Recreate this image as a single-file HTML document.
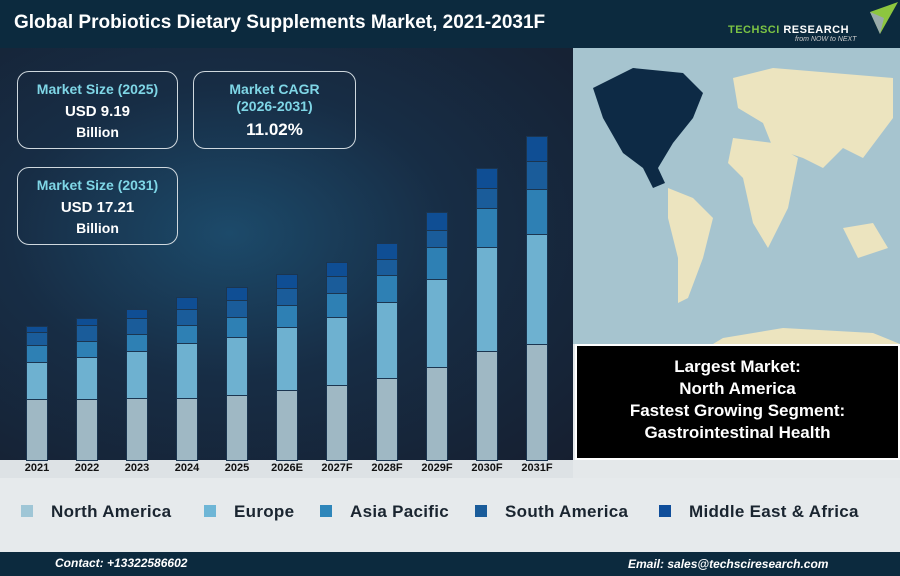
<!DOCTYPE html>
<html><head><style>
*{margin:0;padding:0;box-sizing:border-box}
body{width:900px;height:576px;overflow:hidden;font-family:"Liberation Sans",sans-serif;background:#e4e8ea;position:relative}
.abs{position:absolute}
.box{position:absolute;border:1px solid #cfd8de;border-radius:12px;text-align:center;color:#fff;font-weight:bold}
.t{color:#7fd6e6;font-size:14px}
.bar{position:absolute;width:22px;border:1px solid #1b3550}
.lg{position:absolute;top:502px;font-size:17px;font-weight:bold;color:#1a2530;letter-spacing:0.3px}
.lg i{position:absolute;left:-30px;top:3px;width:12px;height:12px}
</style></head><body>
<div class="abs" style="left:0;top:0;width:900px;height:48px;background:#0c2a3e"></div>
<div class="abs" style="left:14px;top:12px;color:#fff;font-size:19px;font-weight:bold">Global Probiotics Dietary Supplements Market, 2021-2031F</div>
<div class="abs" style="left:728px;top:24px;color:#7cc444;font-size:11px;font-weight:bold;letter-spacing:0.5px">TECHSCI <span style="color:#fff">RESEARCH</span></div>
<div class="abs" style="left:795px;top:36px;color:#ccc;font-size:7px;font-style:italic">from NOW to NEXT</div>
<svg class="abs" style="left:870px;top:2px" width="30" height="34"><polygon points="0,10 28,0 10,32" fill="#8dc63f"/><polygon points="0,10 14,16 10,32" fill="#9aa"/></svg>
<div class="abs" style="left:0;top:48px;width:573px;height:412px;background:radial-gradient(ellipse at 40% 45%,#1c4a6a 0%,#172d45 45%,#161f30 100%)"></div>
<div class="abs" style="left:573px;top:48px;width:327px;height:296px;background:#a6c4cf"></div>
<svg class="abs" style="left:573px;top:48px" width="327" height="296">
<path d="M20,40 L60,20 L110,25 L130,45 L120,70 L100,95 L85,120 L92,135 L80,140 L70,120 L50,105 L30,70 Z" fill="#0d2a45"/>
<path d="M95,140 L120,150 L140,170 L130,210 L115,250 L105,255 L105,210 L95,170 Z" fill="#ece4bf"/>
<path d="M160,30 L200,20 L260,25 L320,30 L320,70 L290,110 L270,100 L250,120 L230,110 L200,100 L190,75 L165,60 Z" fill="#ece4bf"/>
<path d="M160,90 L200,95 L225,110 L215,160 L195,200 L180,175 L170,130 L155,115 Z" fill="#ece4bf"/>
<path d="M270,180 L300,175 L315,200 L285,210 Z" fill="#ece4bf"/>
<path d="M150,290 L210,280 L300,285 L327,296 L140,296 Z" fill="#ece4bf"/>
</svg>
<div class="abs" style="left:575px;top:344px;width:325px;height:116px;background:#000;border:2px solid #fff"></div>
<div class="abs" style="left:575px;top:356px;width:325px;text-align:center;color:#fff;font-size:17px;font-weight:bold;line-height:22px">Largest Market:<br>North America<br>Fastest Growing Segment:<br>Gastrointestinal Health</div>
<div class="box" style="left:17px;top:71px;width:161px;height:78px"><div class="t" style="margin-top:9px">Market Size (2025)</div><div style="font-size:15px;margin-top:6px">USD 9.19</div><div style="font-size:14px;margin-top:4px">Billion</div></div>
<div class="box" style="left:193px;top:71px;width:163px;height:78px"><div class="t" style="margin-top:9px;line-height:17px">Market CAGR<br>(2026-2031)</div><div style="font-size:17px;margin-top:5px">11.02%</div></div>
<div class="box" style="left:17px;top:167px;width:161px;height:78px"><div class="t" style="margin-top:9px">Market Size (2031)</div><div style="font-size:15px;margin-top:6px">USD 17.21</div><div style="font-size:14px;margin-top:4px">Billion</div></div>
<div class="abs" style="left:0;top:460px;width:573px;height:18px;background:#dde2e5"></div>
<div class="abs" style="left:0;top:478px;width:900px;height:74px;background:#e6eaec"></div>
<div id="bars"></div>
<div class="lg" style="left:51px"><i style="background:#9fc6d6"></i>North America</div>
<div class="lg" style="left:234px"><i style="background:#6eb6d6"></i>Europe</div>
<div class="lg" style="left:350px"><i style="background:#2e86ba"></i>Asia Pacific</div>
<div class="lg" style="left:505px"><i style="background:#1a5c9a"></i>South America</div>
<div class="lg" style="left:689px"><i style="background:#0f4e9a"></i>Middle East &amp; Africa</div>
<div class="abs" style="left:0;top:552px;width:900px;height:24px;background:#0c2a3e"></div>
<div class="abs" style="left:55px;top:556px;color:#fff;font-size:12px;font-weight:bold;font-style:italic">Contact: +13322586602</div>
<div class="abs" style="left:628px;top:557px;color:#fff;font-size:12px;font-weight:bold;font-style:italic">Email: sales@techsciresearch.com</div>
<script>
var d=[["2021",326,332,345,362,399],["2022",318,325,341,357,399],["2023",309,318,334,351,398],["2024",297,309,325,343,398],["2025",287,300,317,337,395],["2026E",274,288,305,327,390],["2027F",262,276,293,317,385],["2028F",243,259,275,302,378],["2029F",212,230,247,279,367],["2030F",168,188,208,247,351],["2031F",136,161,189,234,344]];
var c=["#0f4e94","#1a5c9a","#2e80b4","#6eb1d0","#9fb8c4"],h="";
d.forEach(function(r,i){var x=26+i*50;for(var k=0;k<5;k++){var t=r[k+1],b=k<4?r[k+2]:460;h+='<div class="bar" style="left:'+x+'px;top:'+t+'px;height:'+(b-t+1)+'px;background:'+c[k]+'"></div>';}
h+='<div class="abs" style="left:'+(x-14)+'px;top:462px;width:50px;text-align:center;font-size:11px;font-weight:bold;color:#111">'+r[0]+'</div>';});
document.getElementById("bars").innerHTML=h;
</script>
</body></html>
